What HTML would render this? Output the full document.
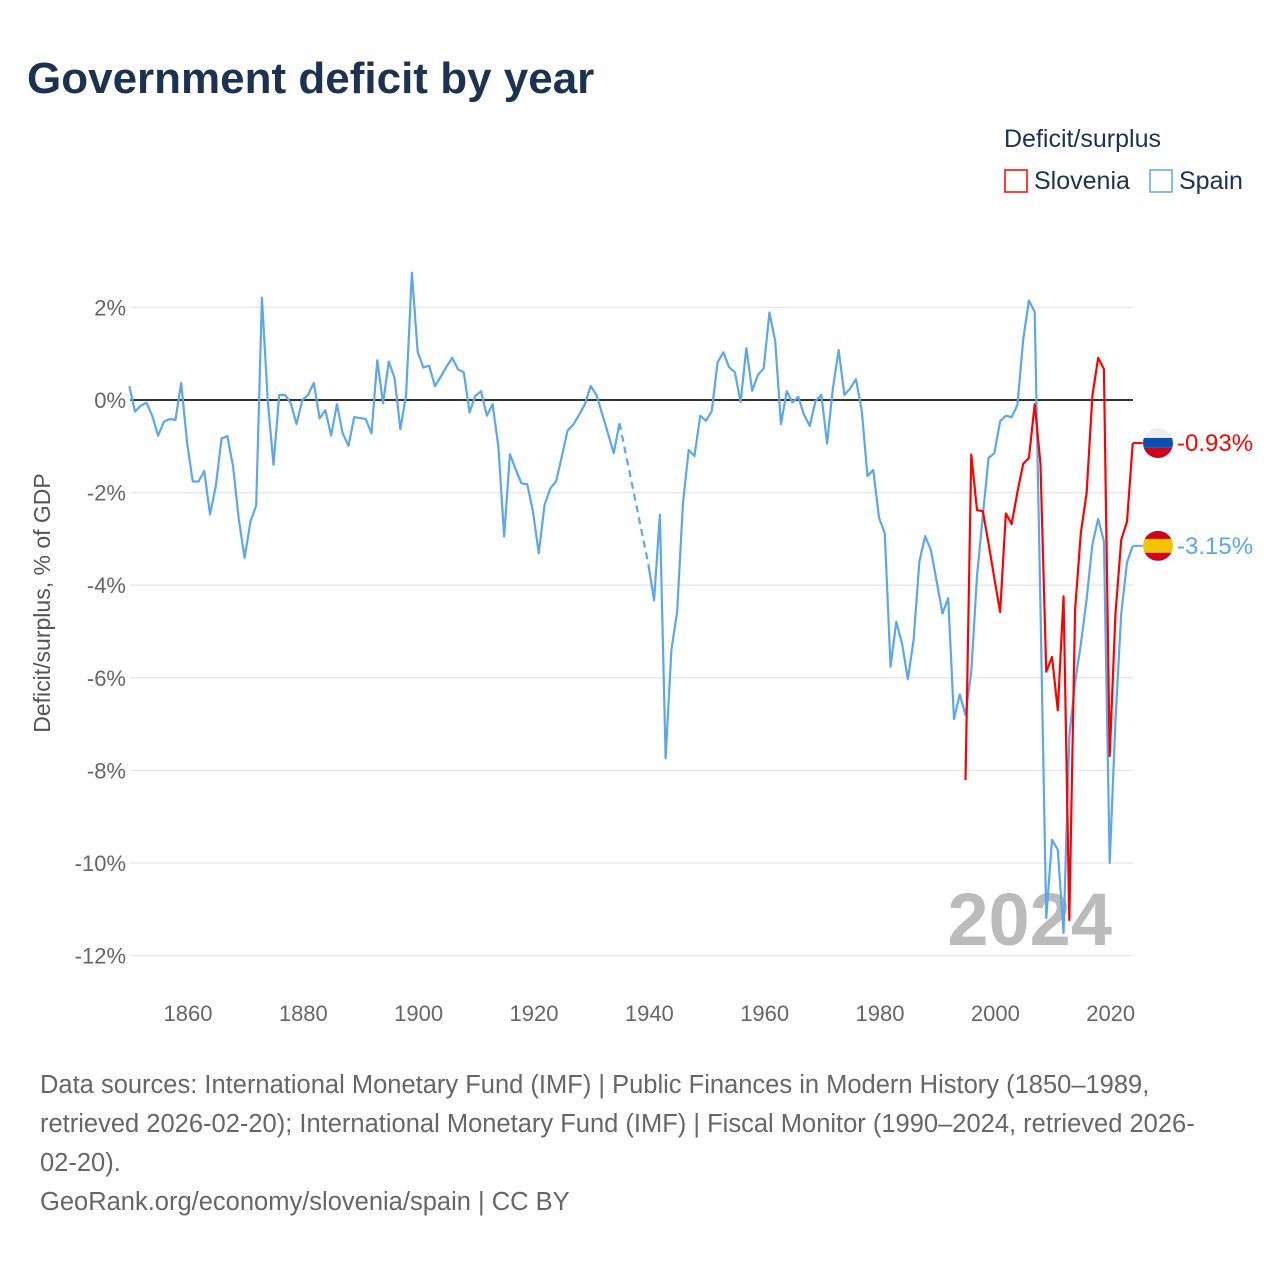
<!DOCTYPE html>
<html><head><meta charset="utf-8"><style>
body{margin:0;background:#fff;width:1280px;height:1280px;overflow:hidden;font-family:"Liberation Sans",sans-serif}
</style></head><body>
<svg width="1280" height="1280" xmlns="http://www.w3.org/2000/svg" id="svg" font-family="Liberation Sans, sans-serif">
<text x="27" y="93" font-size="44" font-weight="bold" fill="#1b3252">Government deficit by year</text>
<g>
<text x="1004" y="147" font-size="25" fill="#1b3252">Deficit/surplus</text>
<g><rect x="1005" y="170" width="22" height="22" fill="none" stroke="#ff0000" stroke-width="1.5"/><text x="1034" y="189" font-size="25" fill="#1b3252">Slovenia</text></g>
<g><rect x="1150" y="170" width="22" height="22" fill="none" stroke="#5ba7ec" stroke-width="1.5"/><text x="1179" y="189" font-size="25" fill="#1b3252">Spain</text></g>
</g>
<text transform="translate(50,603) rotate(-90)" text-anchor="middle" font-size="23" fill="#555">Deficit/surplus, % of GDP</text>
<g id="grid"></g><g id="yt"></g><g id="xt"></g>
<text x="1112" y="945" text-anchor="end" font-size="74" font-weight="bold" fill="#bbb">2024</text>
<g id="series"></g>
<g id="ends"></g>
<g font-size="25.5" fill="#666">
<text x="40" y="1093">Data sources: International Monetary Fund (IMF) | Public Finances in Modern History (1850–1989,</text>
<text x="40" y="1132">retrieved 2026-02-20); International Monetary Fund (IMF) | Fiscal Monitor (1990–2024, retrieved 2026-</text>
<text x="40" y="1171">02-20).</text>
<text x="40" y="1210">GeoRank.org/economy/slovenia/spain | CC BY</text>
</g>
</svg>
<script>
const yTicks=[2,0,-2,-4,-6,-8,-10,-12];
const xTicks=[1860,1880,1900,1920,1940,1960,1980,2000,2020];
const spainStart=1850;
const spain=[0.30,-0.25,-0.12,-0.06,-0.35,-0.77,-0.47,-0.41,-0.43,0.37,
-0.9,-1.76,-1.76,-1.53,-2.47,-1.86,-0.83,-0.78,-1.44,-2.59,
-3.41,-2.63,-2.28,2.21,0,-1.40,0.11,0.11,-0.07,-0.52,
0.0,0.11,0.37,-0.40,-0.22,-0.77,-0.09,-0.72,-0.99,-0.37,
-0.39,-0.41,-0.72,0.86,-0.07,0.83,0.47,-0.63,0.11,2.75,
1.04,0.70,0.74,0.30,0.50,0.72,0.91,0.66,0.60,-0.27,
0.09,0.19,-0.34,-0.09,-1.01,-2.95,-1.17,-1.50,-1.80,-1.82,
-2.41,-3.31,-2.27,-1.91,-1.76,-1.22,-0.66,-0.53,-0.32,-0.09,
0.30,0.11,-0.30,-0.72,-1.15,-0.50,null,null,null,null,
-3.54,-4.33,-2.48,-7.74,-5.40,-4.57,-2.23,-1.08,-1.21,-0.34,
-0.45,-0.24,0.81,1.03,0.71,0.60,-0.04,1.12,0.20,0.54,
0.68,1.89,1.27,-0.52,0.19,-0.05,0.07,-0.32,-0.56,-0.02,
0.11,-0.94,0.25,1.08,0.11,0.25,0.45,-0.22,-1.64,-1.51,
-2.54,-2.88,-5.76,-4.79,-5.26,-6.03,-5.18,-3.49,-2.94,-3.24,
-3.92,-4.61,-4.28,-6.89,-6.36,-6.80,-5.87,-3.79,-2.50,-1.25,
-1.15,-0.46,-0.34,-0.37,-0.11,1.30,2.15,1.90,-4.5,-11.19,
-9.5,-9.71,-11.51,-7.26,-6.1,-5.27,-4.30,-3.12,-2.57,-3.05,
-10.0,-6.93,-4.61,-3.51,-3.15];
const sloStart=1995;
const slovenia=[-8.21,-1.18,-2.38,-2.40,-3.1,-3.85,-4.58,-2.45,-2.68,-1.99,
-1.38,-1.25,-0.09,-1.38,-5.87,-5.55,-6.7,-4.24,-11.23,-4.53,
-2.87,-2.01,0.09,0.91,0.67,-7.69,-4.62,-3.02,-2.63,-0.93];
const NS='http://www.w3.org/2000/svg';
const X0=130.3,PX=5.767,Y0=400,PY=46.3,XR=1133;
const xs=yr=>X0+(yr-1850)*PX-1;
const ys=v=>Y0-v*PY;
function mk(t,a,p){const e=document.createElementNS(NS,t);for(const k in a)e.setAttribute(k,a[k]);p.appendChild(e);return e;}
const grid=document.getElementById('grid'),yt=document.getElementById('yt'),xt=document.getElementById('xt'),ser=document.getElementById('series'),ends=document.getElementById('ends');
yTicks.forEach(v=>{
 const l=mk('line',{x1:X0,x2:XR,y1:ys(v),y2:ys(v),stroke:'#e6e6e6','stroke-width':1.3},grid);
 
 
 const t=mk('text',{x:126,y:ys(v)+8,'text-anchor':'end','font-size':22,fill:'#666'},yt);
 t.textContent=v+'%';
 
 
});
const z=mk('line',{x1:X0,x2:XR,y1:ys(0),y2:ys(0),stroke:'#333','stroke-width':2},grid);


xTicks.forEach(y=>{
 const t=mk('text',{x:xs(y)+1,y:1021,'text-anchor':'middle','font-size':22,fill:'#666'},xt);
 t.textContent=y;
 
 
});
function drawSeries(arr,start,color,name){
 let segs=[],cur=[];
 arr.forEach((v,i)=>{if(v===null){if(cur.length)segs.push(cur);cur=[];}else cur.push([xs(start+i),ys(v)]);});
 if(cur.length)segs.push(cur);
 segs.forEach((s,k)=>{
  const p=mk('polyline',{points:s.map(q=>q.join(',')).join(' '),fill:'none',stroke:color,'stroke-width':2.2,'stroke-linejoin':'round'},ser);
  
  
  if(k>0){const a=segs[k-1][segs[k-1].length-1],b=s[0];
   const d=mk('line',{x1:a[0],y1:a[1],x2:b[0],y2:b[1],stroke:color,'stroke-width':2.2,'stroke-dasharray':'7,5'},ser);
   
   }
 });
}
drawSeries(spain,spainStart,'#5ba7ec','spain');
drawSeries(slovenia,sloStart,'#ff0000','slovenia');
function endLabel(v,color,name,flag){
 const y=ys(v),x=xs(2024);
 const l=mk('line',{x1:x,x2:x+10,y1:y,y2:y,stroke:color,'stroke-width':2},ends);
 
 
 const g=mk('g',{},ends);
 
 
 const cx=1158,r=15;
 const cp=mk('clipPath',{id:'c'+name},g);mk('circle',{cx:cx,cy:y,r:r},cp);
 const gg=mk('g',{'clip-path':'url(#c'+name+')'},g);
 flag.forEach(([c,f0,f1])=>mk('rect',{x:cx-r,y:y-r+f0*2*r,width:2*r,height:(f1-f0)*2*r,fill:c},gg));
 const t=mk('text',{x:1177,y:y+8,'font-size':24,fill:color},ends);
 t.textContent=v.toFixed(2)+'%';
 
 
}
endLabel(slovenia[slovenia.length-1],'#ff0000','slovenia',[['#eee',0,0.33],['#0c4fb5',0.33,0.66],['#d0021b',0.66,1]]);
endLabel(spain[spain.length-1],'#5ba7ec','spain',[['#d0021b',0,0.27],['#f5c400',0.27,0.73],['#d0021b',0.73,1]]);
</script>
</body></html>
